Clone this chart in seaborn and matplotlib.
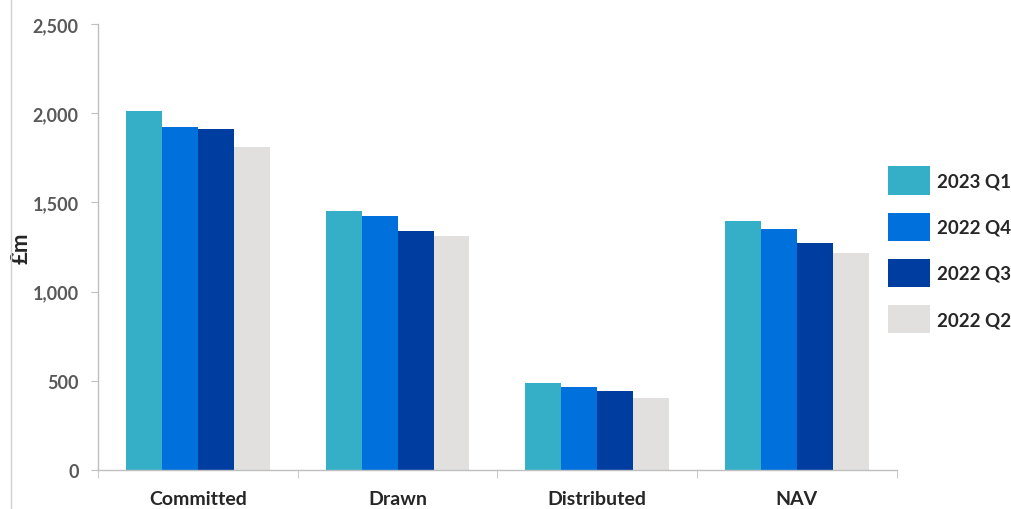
import matplotlib
matplotlib.use("Agg")
import matplotlib.pyplot as plt
import matplotlib.ticker as mticker
from matplotlib.lines import Line2D
import seaborn as sns
import pandas as pd

categories = ["Committed", "Drawn", "Distributed", "NAV"]
periods = ["2023 Q1", "2022 Q4", "2022 Q3", "2022 Q2"]
q1_2023 = [2012, 1450, 488, 1395]
q4_2022 = [1920, 1423, 465, 1350]
q3_2022 = [1912, 1340, 442, 1272]
q2_2022 = [1810, 1312, 404, 1216]
colors = ["#35AFC8", "#0070DD", "#003DA0", "#E1E0DF"]

rows = []
for period, values in zip(periods, [q1_2023, q4_2022, q3_2022, q2_2022]):
    for cat, v in zip(categories, values):
        rows.append({"category": cat, "period": period, "value": v})
df = pd.DataFrame(rows)

sns.set_style("white")
plt.rcParams["font.family"] = ["Lato", "DejaVu Sans"]

fig = plt.figure(figsize=(10.11, 5.10), dpi=100)
ax = fig.add_axes([0.097, 0.0765, 0.79, 0.8745])

sns.barplot(data=df, x="category", y="value", hue="period", order=categories,
            hue_order=periods, palette=colors, width=0.72, saturation=1,
            edgecolor="none", ax=ax, legend=False)

ax.set_ylim(0, 2500)
ax.set_xlim(-0.5, 3.5)
ax.yaxis.set_major_locator(mticker.MultipleLocator(500))
ax.yaxis.set_major_formatter(mticker.FuncFormatter(lambda v, p: f"{int(v):,}"))
ax.set_xlabel("")
ax.set_ylabel("£m", fontsize=16, fontweight="bold")
ax.yaxis.set_label_coords(-0.083, 0.5)

for s in ["top", "right"]:
    ax.spines[s].set_visible(False)
for s in ["left", "bottom"]:
    ax.spines[s].set_color("#BFBFBF")
    ax.spines[s].set_linewidth(1)

ax.tick_params(axis="y", which="major", left=True, length=5, color="#BFBFBF",
               labelsize=13, labelcolor="#595959", pad=9)
ax.tick_params(axis="x", which="major", bottom=False, labelsize=14, pad=11)
ax.set_xticks([-0.5, 0.5, 1.5, 2.5, 3.5], minor=True)
ax.tick_params(axis="x", which="minor", bottom=True, length=6, color="#BFBFBF")
for lbl in ax.get_yticklabels():
    lbl.set_fontweight("bold")
for lbl in ax.get_xticklabels():
    lbl.set_fontweight("bold")

handles = [plt.Rectangle((0, 0), 1, 1, facecolor=c, edgecolor="none") for c in colors]
fig.legend(handles, periods, loc="center left", bbox_to_anchor=(0.878, 0.508),
           frameon=False, borderpad=0, borderaxespad=0,
           handlelength=2.25, handleheight=1.95, labelspacing=0.95,
           handletextpad=0.4, prop={"weight": "bold", "size": 13.5})

fig.add_artist(Line2D([11 / 1011, 11 / 1011], [0, 1], color="#D0D0D0", lw=1,
                      transform=fig.transFigure))

fig.savefig("out.png", dpi=100)
